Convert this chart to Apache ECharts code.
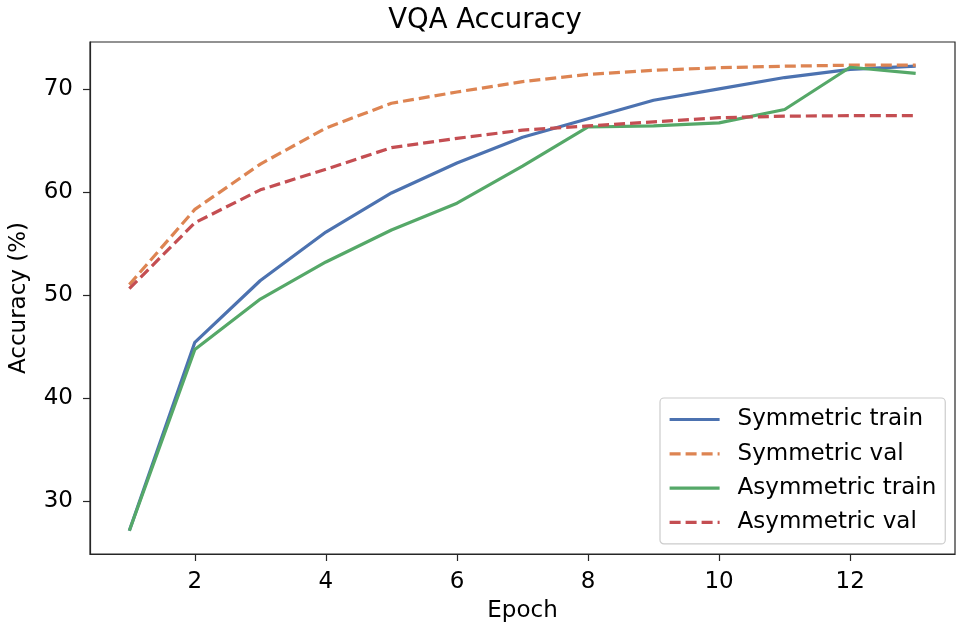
<!DOCTYPE html>
<html>
<head>
<meta charset="utf-8">
<script src="https://cdn.jsdelivr.net/npm/echarts@6/dist/echarts.min.js"></script>
<style>
html,body{margin:0;padding:0;background:#fff;}
#chart{width:970px;height:634px;}
</style>
</head>
<body>
<div id="chart"></div>
<script>
var epochs = [1, 2, 3, 4, 5, 6, 7, 8, 9, 10, 11, 12, 13];
var symTrain = [27.1, 45.4, 51.4, 56.1, 59.9, 62.8, 65.3, 67.1, 68.9, 70.0, 71.1, 71.9, 72.2];
var symVal = [51.0, 58.3, 62.7, 66.2, 68.6, 69.7, 70.7, 71.4, 71.8, 72.05, 72.2, 72.3, 72.3];
var asymTrain = [27.1, 44.7, 49.6, 53.2, 56.3, 58.9, 62.5, 66.3, 66.4, 66.7, 68.0, 72.1, 71.5];
var asymVal = [50.6, 57.0, 60.2, 62.2, 64.3, 65.2, 66.0, 66.4, 66.8, 67.2, 67.35, 67.4, 67.4];
var xTicks = [2, 4, 6, 8, 10, 12];
var yTicks = [30, 40, 50, 60, 70];
var seriesNames = ['Symmetric train', 'Symmetric val', 'Asymmetric train', 'Asymmetric val'];

function pairs(ys) { return epochs.map(function (x, i) { return [x, ys[i]]; }); }

var FONT = 'DejaVu Sans';
var chart = echarts.init(document.getElementById('chart'));
var axisCol = '#262626';

function mkSeries(name, ys, color, dashed) {
  return {
    name: name, type: 'line', data: pairs(ys), symbol: 'none', showSymbol: false,
    lineStyle: { color: color, width: 3.2, type: dashed ? [11, 5] : 'solid', cap: 'butt', join: 'round' },
    itemStyle: { color: color },
    emphasis: { disabled: true },
    animation: false
  };
}

chart.setOption({
  animation: false,
  backgroundColor: '#ffffff',
  title: {
    text: 'VQA Accuracy', left: 'center', top: 2,
    textStyle: { fontFamily: FONT, fontSize: 27.5, fontWeight: 'normal', color: '#000' }
  },
  grid: { left: 90, right: 15, top: 42, bottom: 80, outerBoundsMode: 'none', containLabel: false, show: true, borderColor: axisCol, borderWidth: 1.2, backgroundColor: 'transparent' },
  legend: {
    orient: 'vertical', left: 660, top: 398,
    padding: [10, 9, 10, 8],
    itemWidth: 50, itemHeight: 14, itemGap: 11.3,
    itemStyle: { opacity: 0 },
    lineStyle: { width: 3.2 },
    backgroundColor: '#ffffff', borderColor: '#cccccc', borderWidth: 1.2, borderRadius: 4,
    data: seriesNames,
    textStyle: { fontFamily: FONT, fontSize: 23, color: '#000', padding: [0, 0, 0, 13] }
  },
  xAxis: {
    type: 'value', min: 0.4, max: 13.6,
    name: 'Epoch', nameLocation: 'middle', nameGap: 46,
    nameTextStyle: { fontFamily: FONT, fontSize: 23, color: '#000' },
    axisLine: { show: true, onZero: false, lineStyle: { color: axisCol, width: 1.2 } },
    axisTick: { show: true, length: 7, lineStyle: { color: axisCol, width: 1.2 }, customValues: xTicks },
    axisLabel: { fontFamily: FONT, fontSize: 23, color: '#000', margin: 17, customValues: xTicks },
    splitLine: { show: false }
  },
  yAxis: {
    type: 'value', min: 24.85, max: 74.55,
    name: 'Accuracy (%)', nameLocation: 'middle', nameGap: 59, nameRotate: 90,
    nameTextStyle: { fontFamily: FONT, fontSize: 23, color: '#000' },
    axisLine: { show: true, onZero: false, lineStyle: { color: axisCol, width: 1.2 } },
    axisTick: { show: true, length: 7, lineStyle: { color: axisCol, width: 1.2 }, customValues: yTicks },
    axisLabel: { fontFamily: FONT, fontSize: 23, color: '#000', margin: 17, customValues: yTicks },
    splitLine: { show: false }
  },
  series: [
    mkSeries(seriesNames[0], symTrain, '#4c72b0', false),
    mkSeries(seriesNames[1], symVal, '#dd8452', true),
    mkSeries(seriesNames[2], asymTrain, '#55a868', false),
    mkSeries(seriesNames[3], asymVal, '#c44e52', true)
  ]
});
</script>
</body>
</html>
